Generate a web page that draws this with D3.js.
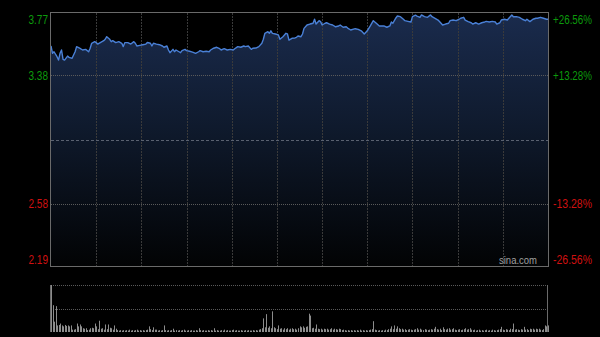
<!DOCTYPE html>
<html><head><meta charset="utf-8">
<script src="https://cdn.jsdelivr.net/npm/d3@7"></script>
<style>html,body{margin:0;padding:0;background:#000;}svg{display:block;}</style>
</head><body>
<svg id="c" width="600" height="337"></svg>
<script>
// ---- data ----
const prevClose = 2.98;
const minutes = [0,1,2,4,5,6,7,8,9,11,12,14,16,17,19,21,23,25,26,27,29,30,31,33,35,36,37,39,40,41,43,45,47,48,49,51,53,55,56,57,59,61,63,64,66,67,68,70,72,74,75,77,78,79,81,82,83,85,86,87,89,90,92,94,96,98,99,101,103,105,106,108,110,112,113,115,117,119,121,122,124,126,128,129,131,133,134,136,138,140,141,142,144,145,146,147,149,151,152,154,156,157,158,160,162,163,164,166,167,168,170,172,174,175,176,178,179,180,182,183,185,187,189,191,192,194,196,197,199,202,204,206,208,210,212,214,216,218,221,223,225,226,227,229,230,232,234,235,237,239,240,242,243,245,246,248,250,252,253,255,257,259,260,262,264,265,267,269,271,272,274,275,277,279,280,282,284,286,288,289,291,293,295,296,298,299,301,303,304,306,307,309,311,313,315,316,318,320,322,323,325,327,329,330];
const prices = [3.564,3.518,3.528,3.497,3.476,3.518,3.539,3.481,3.476,3.501,3.493,3.487,3.528,3.560,3.550,3.539,3.543,3.528,3.550,3.581,3.591,3.585,3.576,3.587,3.597,3.606,3.622,3.606,3.591,3.597,3.585,3.591,3.581,3.560,3.585,3.585,3.576,3.591,3.581,3.564,3.568,3.572,3.576,3.586,3.581,3.564,3.581,3.576,3.572,3.564,3.556,3.564,3.539,3.522,3.543,3.528,3.539,3.528,3.522,3.535,3.543,3.535,3.531,3.526,3.518,3.528,3.535,3.528,3.531,3.528,3.539,3.550,3.556,3.547,3.539,3.547,3.539,3.543,3.539,3.547,3.560,3.556,3.564,3.560,3.564,3.543,3.550,3.551,3.560,3.581,3.606,3.643,3.653,3.643,3.659,3.643,3.639,3.633,3.606,3.622,3.643,3.639,3.601,3.612,3.614,3.618,3.626,3.622,3.639,3.674,3.695,3.701,3.706,3.731,3.701,3.722,3.716,3.695,3.706,3.709,3.701,3.695,3.684,3.689,3.695,3.681,3.684,3.676,3.664,3.672,3.668,3.659,3.639,3.659,3.689,3.722,3.706,3.689,3.689,3.681,3.689,3.714,3.706,3.739,3.751,3.747,3.731,3.722,3.718,3.714,3.747,3.756,3.751,3.743,3.758,3.747,3.743,3.758,3.747,3.737,3.726,3.706,3.695,3.701,3.706,3.722,3.726,3.722,3.731,3.737,3.743,3.726,3.716,3.709,3.701,3.709,3.701,3.709,3.714,3.718,3.714,3.718,3.714,3.701,3.709,3.726,3.731,3.726,3.737,3.758,3.747,3.747,3.743,3.731,3.722,3.731,3.716,3.731,3.737,3.737,3.743,3.737,3.731,3.731];
const volumes = [100,57,22,55,14,15,18,14,12,15,
13,14,12,14,5,5,6,18,12,16,
12,8,7,8,4,5,8,9,8,18,
12,6,24,7,8,5,16,6,16,9,
8,5,14,7,4,3,4,3,4,3,
4,3,5,3,4,3,4,5,3,4,
3,4,3,4,5,12,6,4,10,5,
5,3,4,3,4,14,4,3,4,3,
4,7,3,4,3,4,3,4,5,3,
3,4,3,4,3,3,4,3,8,4,
3,4,3,3,4,3,4,3,8,3,
4,3,3,4,3,5,3,4,3,3,
4,5,3,4,3,3,4,3,3,4,
3,4,3,3,4,3,4,3,5,6,
8,29,10,38,9,12,8,44,10,8,
6,14,7,8,5,8,6,8,5,7,
8,6,7,5,8,12,10,12,9,11,
12,39,35,8,9,7,16,7,6,7,
5,7,6,7,5,6,8,5,7,6,
5,7,6,4,5,4,3,4,3,4,
3,4,3,4,3,5,3,4,3,4,
3,4,5,6,23,5,4,3,4,3,
4,3,5,4,6,7,12,6,14,7,
12,8,6,7,5,6,4,5,6,5,
4,5,6,8,5,7,5,4,6,5,
4,5,6,5,7,11,6,5,7,4,
10,6,5,7,8,5,6,8,5,4,
5,6,4,5,6,8,5,6,8,5,
4,5,3,4,5,3,4,3,4,5,
3,4,3,5,4,3,4,5,6,11,
5,4,6,5,4,7,6,18,5,6,
5,4,6,5,11,5,6,4,7,6,
7,5,7,6,7,5,4,6,14,12,
14];
const priceTicks = [3.77, 3.38, 2.58, 2.19];
const pctTicks = ["+26.56%", "+13.28%", "-13.28%", "-26.56%"];
const hGrid = [3.38, 2.98, 2.58];
const timeTicks = [30, 60, 90, 120, 150, 180, 210, 240, 270, 300];

// ---- layout ----
const L = 51, R = 548, T = 13, B = 266;
const VT = 285, VB = 332;
const svg = d3.select("#c");
svg.append("rect").attr("width", 600).attr("height", 337).attr("fill", "#000");

const x = d3.scaleLinear().domain([0, 330]).range([L, R]);
const y = d3.scaleLinear().domain([2.19, 3.77]).range([B, T]);
const yv = d3.scaleLinear().domain([0, 100]).range([VB, VT]);

const defs = svg.append("defs");
const grad = defs.append("linearGradient").attr("id", "g")
  .attr("gradientUnits", "userSpaceOnUse").attr("x1", 0).attr("x2", 0).attr("y1", T).attr("y2", B);
grad.append("stop").attr("offset", "0%").attr("stop-color", "#1a2b4d");
grad.append("stop").attr("offset", "45%").attr("stop-color", "#0f1a2d");
grad.append("stop").attr("offset", "100%").attr("stop-color", "#020304");

const pts = minutes.map((m, i) => [m, prices[i]]);

// area
svg.append("path").datum(pts)
  .attr("d", d3.area().x(d => x(d[0])).y0(B).y1(d => y(d[1])))
  .attr("fill", "url(#g)");

// grid
svg.append("g").selectAll("line").data(timeTicks).join("line")
  .attr("x1", d => Math.round(x(d)) + 0.5).attr("x2", d => Math.round(x(d)) + 0.5)
  .attr("y1", T).attr("y2", B)
  .attr("stroke", "#3a3a3a").attr("stroke-width", 1).attr("stroke-dasharray", "2,1");
svg.append("g").selectAll("line").data(hGrid).join("line")
  .attr("x1", L).attr("x2", R)
  .attr("y1", d => Math.round(y(d)) + 0.5).attr("y2", d => Math.round(y(d)) + 0.5)
  .attr("stroke", d => d === prevClose ? "#5a6170" : "#5a5a5a").attr("stroke-width", 1)
  .attr("stroke-dasharray", d => d === prevClose ? "3,2" : "1,1");

// line
svg.append("path").datum(pts)
  .attr("d", d3.line().x(d => x(d[0])).y(d => y(d[1])))
  .attr("fill", "none").attr("stroke", "#4a80d6").attr("stroke-width", 1.4)
  .attr("stroke-linejoin", "round");

// frame
svg.append("rect").attr("x", L - 0.5).attr("y", T - 0.5).attr("width", R - L + 1).attr("height", B - T + 1)
  .attr("fill", "none").attr("stroke", "#6a6a6a").attr("stroke-width", 1);

// left price axis
const leftAx = svg.append("g").attr("transform", `translate(${L},0)`)
  .call(d3.axisLeft(y).tickValues(priceTicks).tickSize(0).tickPadding(3).tickFormat(d3.format(".2f")));
leftAx.select(".domain").remove();
leftAx.selectAll("text")
  .attr("font-family", "Liberation Sans, Arial, sans-serif").attr("font-size", 12)
  .attr("fill", d => d > prevClose ? "#0c9a0c" : "#d01010")
  .attr("textLength", 19.5).attr("lengthAdjust", "spacingAndGlyphs")
  .attr("dy", d => d === 3.77 ? "0.86em" : d === 2.19 ? "-0.18em" : "0.35em");

// right percent axis
const rightAx = svg.append("g").attr("transform", `translate(${R},0)`)
  .call(d3.axisRight(y).tickValues(priceTicks).tickSize(0).tickPadding(5)
    .tickFormat((d, i) => pctTicks[i]));
rightAx.select(".domain").remove();
rightAx.selectAll("text")
  .attr("font-family", "Liberation Sans, Arial, sans-serif").attr("font-size", 12)
  .attr("fill", d => d > prevClose ? "#0c9a0c" : "#d01010")
  .attr("textLength", 39).attr("lengthAdjust", "spacingAndGlyphs")
  .attr("dy", d => d === 3.77 ? "0.86em" : d === 2.19 ? "-0.18em" : "0.35em");

// watermark
svg.append("text").attr("x", 537).attr("y", 264).attr("text-anchor", "end")
  .attr("font-family", "Liberation Sans, Arial, sans-serif").attr("font-size", 11)
  .attr("fill", "#a0a0a0").attr("textLength", 38).attr("lengthAdjust", "spacingAndGlyphs")
  .text("sina.com");

// volume panel
svg.append("g").selectAll("line").data([100, 50]).join("line")
  .attr("x1", L).attr("x2", R)
  .attr("y1", d => Math.round(yv(d)) + 0.5).attr("y2", d => Math.round(yv(d)) + 0.5)
  .attr("stroke", "#5a5a5a").attr("stroke-dasharray", "1,1");
svg.append("g").selectAll("rect").data(volumes).join("rect")
  .attr("x", (d, i) => Math.round(x(i)))
  .attr("y", d => yv(d)).attr("width", 1).attr("height", d => VB - yv(d))
  .attr("fill", "#8c8c8c");
svg.append("g").selectAll("line").data([L, R]).join("line")
  .attr("x1", d => d - 0.5).attr("x2", d => d - 0.5).attr("y1", VT).attr("y2", VB)
  .attr("stroke", "#6a6a6a");
</script>
</body></html>
